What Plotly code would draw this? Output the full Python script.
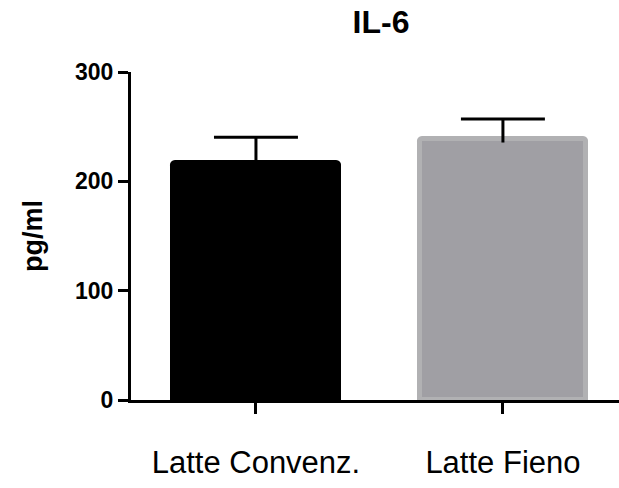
import plotly.graph_objects as go

groups = ["Latte Convenz.", "Latte Fieno"]
means = [216.5, 238.5]
sem_up = [23.8, 18.5]
bar_fill = ["#000000", "#a09fa4"]
bar_edge = ["#000000", "#b1b1b3"]
y_ticks = [0, 100, 200, 300]

FONT = "Arial, Liberation Sans, sans-serif"
W, H = 619, 488
CAP = 0.17  # half width of error caps, in category units

fig = go.Figure()
for i, name in enumerate(groups):
    fig.add_trace(
        go.Bar(
            x=[i],
            y=[means[i]],
            width=0.675,
            marker=dict(color=bar_fill[i], line=dict(color=bar_edge[i], width=5), cornerradius=3),
            name=name,
            showlegend=False,
        )
    )

# upward-only error bars (stem + cap)
ex, ey = [], []
for i, (m, s) in enumerate(zip(means, sem_up)):
    ex += [i, i, None, i - CAP, i + CAP, None]
    ey += [m - 3, m + s, None, m + s, m + s, None]
fig.add_trace(
    go.Scatter(x=ex, y=ey, mode="lines", line=dict(color="#000000", width=3),
               showlegend=False, hoverinfo="skip")
)

fig.update_layout(
    width=W,
    height=H,
    margin=dict(l=131, r=0, t=72, b=H - 400),
    paper_bgcolor="white",
    plot_bgcolor="white",
    font=dict(family=FONT, color="#000000"),
    title=dict(
        text="<b>IL-6</b>",
        font=dict(size=32, family=FONT, color="#000000"),
        x=381 / W,
        xref="container",
        xanchor="center",
        y=1 - 22 / H,
        yref="container",
        yanchor="middle",
    ),
    bargap=0,
)

fig.update_xaxes(
    range=[-0.506, 1.47],
    tickmode="array",
    tickvals=[0, 1],
    ticktext=groups,
    ticks="outside",
    ticklen=11,
    tickwidth=3,
    tickcolor="#000000",
    showline=True,
    linecolor="#000000",
    linewidth=3,
    showgrid=False,
    zeroline=False,
    tickfont=dict(size=31, family=FONT, color="#000000"),
    ticklabelstandoff=22,
)

fig.update_yaxes(
    range=[0, 300],
    tickmode="array",
    tickvals=y_ticks,
    ticktext=[f"<b>{v}</b>" for v in y_ticks],
    ticks="outside",
    ticklen=10,
    tickwidth=3,
    tickcolor="#000000",
    showline=True,
    linecolor="#000000",
    linewidth=3,
    showgrid=False,
    zeroline=False,
    tickfont=dict(size=23, family=FONT, color="#000000"),
    ticklabelstandoff=0,
)

fig.add_annotation(
    text="<b>pg/ml</b>",
    xref="paper",
    yref="paper",
    x=(33 - 131) / (W - 131),
    y=0.5,
    xanchor="center",
    yanchor="middle",
    textangle=-90,
    showarrow=False,
    font=dict(size=27, family=FONT, color="#000000"),
)

# drop the browser's default body margin so the figure fills the window
fig.write_html(
    "out.html",
    config={"displayModeBar": False},
    post_script="document.body.style.margin='0';",
)
